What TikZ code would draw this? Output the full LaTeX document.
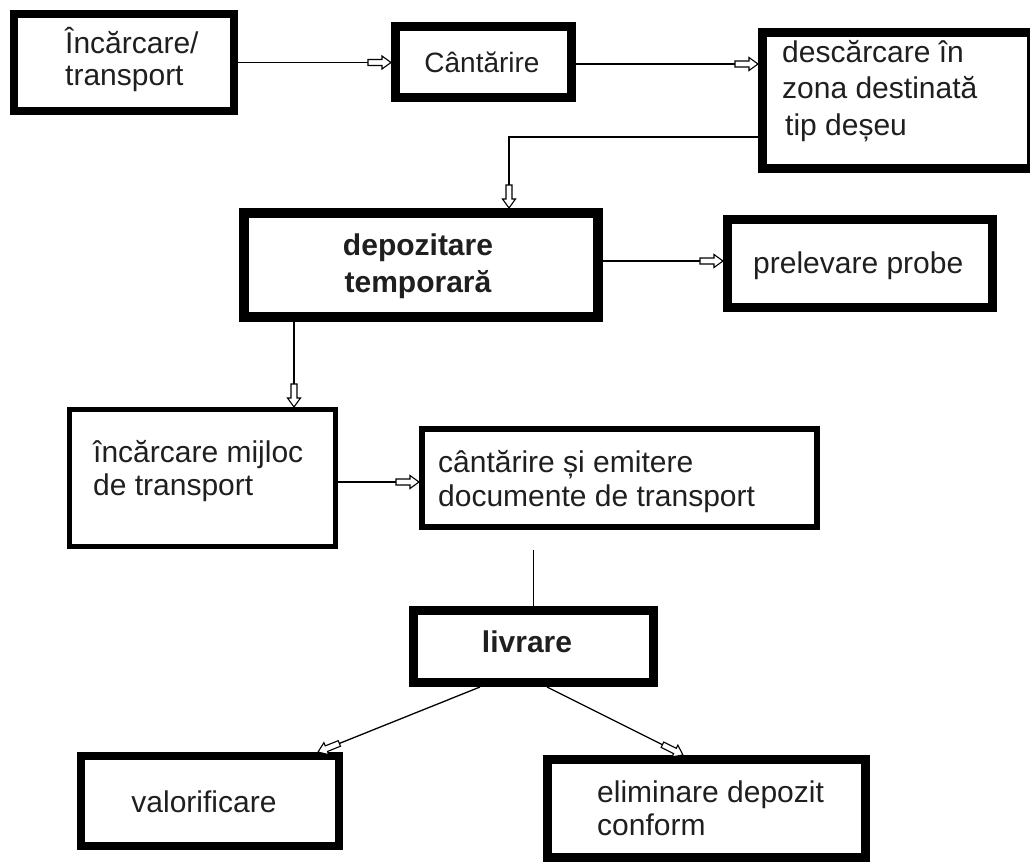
\documentclass[tikz,border=0pt]{standalone}
\usepackage{fontspec}
\setmainfont{Liberation Sans}
\usetikzlibrary{arrows.meta}
\pgfdeclarearrow{
  name = BlockOpen,
  setup code = {
    \pgfarrowssettipend{0pt}
    \pgfarrowssetlineend{-22pt}
    \pgfarrowssetbackend{-23pt}
    \pgfarrowssetvisualbackend{-23pt}
    \pgfarrowsupperhullpoint{0pt}{6.5pt}
    \pgfarrowsupperhullpoint{-23pt}{6.5pt}
  },
  drawing code = {
    \pgfsetlinewidth{1.1pt}
    \pgfsetmiterjoin
    \pgfpathmoveto{\pgfqpoint{0pt}{0pt}}
    \pgfpathlineto{\pgfqpoint{-9pt}{6.5pt}}
    \pgfpathlineto{\pgfqpoint{-9pt}{3pt}}
    \pgfpathlineto{\pgfqpoint{-23pt}{3pt}}
    \pgfpathlineto{\pgfqpoint{-23pt}{-3pt}}
    \pgfpathlineto{\pgfqpoint{-9pt}{-3pt}}
    \pgfpathlineto{\pgfqpoint{-9pt}{-6.5pt}}
    \pgfpathclose
    \pgfsetfillcolor{white}
    \pgfusepathqfillstroke
  }
}
\tikzset{
  box/.style={draw=black, fill=white, rectangle, inner sep=0pt},
  txt/.style={inner sep=0pt, align=left, text=black!88},
  arr/.style={line width=1.3pt, -{BlockOpen}},
  ln/.style={line width=1.3pt}
}
\begin{document}
\begin{tikzpicture}[x=1pt,y=-1pt]
\useasboundingbox (0,0) rectangle (1030,867);
\clip (0,0) rectangle (1030,867);
\fill[white] (0,0) rectangle (1030,867);
% boxes
\node[box, line width=8pt, minimum width=220pt, minimum height=97pt] (b1) at (124,62.5) {};
\node[box, line width=9pt, minimum width=176pt, minimum height=71pt] (b2) at (483.5,62) {};
\node[box, line width=9pt, minimum width=269pt, minimum height=136pt] (b3) at (897,100.5) {};
\node[box, line width=10pt, minimum width=354pt, minimum height=104pt] (b4) at (421,265) {};
\node[box, line width=9pt, minimum width=265pt, minimum height=88pt] (b5) at (860,263.5) {};
\node[box, line width=5pt, minimum width=266pt, minimum height=137pt] (b6) at (202.5,478) {};
\node[box, line width=6pt, minimum width=395pt, minimum height=98pt] (b7) at (619.5,478) {};
\node[box, line width=9pt, minimum width=240pt, minimum height=72pt] (bL) at (533.5,646.5) {};
\node[box, line width=8pt, minimum width=258pt, minimum height=90pt] (b8) at (210,801) {};
\node[box, line width=9pt, minimum width=318pt, minimum height=98pt] (b9) at (706.5,808.5) {};
% texts (anchor = baseline of the last line)
\node[txt, anchor=base west, font=\fontsize{30}{32}\selectfont] (t1) at (65,85) {Încărcare/\\transport};
\node[txt, anchor=base, font=\fontsize{28}{32}\selectfont] (t2) at (482,72) {Cântărire};
\node[txt, anchor=base west, font=\fontsize{30}{36.5}\selectfont] (t3) at (782,135) {descărcare în\\zona destinată\\\hspace*{3pt}tip deșeu};
\node[txt, anchor=base, align=center, font=\fontsize{30}{37}\selectfont\bfseries] (t4) at (418,292) {depozitare\\temporară};
\node[txt, anchor=base west, font=\fontsize{30}{34}\selectfont] (t5) at (753,273) {prelevare probe};
\node[txt, anchor=base west, font=\fontsize{30}{33}\selectfont] (t6) at (93,495) {încărcare mijloc\\de transport};
\node[txt, anchor=base west, font=\fontsize{30}{34}\selectfont] (t7) at (438,506) {cântărire și emitere\\documente de transport};
\node[txt, anchor=base, font=\fontsize{30}{34}\selectfont\bfseries] (tL) at (527,652) {livrare};
\node[txt, anchor=base, font=\fontsize{30}{34}\selectfont] (t8) at (204,812) {valorificare};
\node[txt, anchor=base west, font=\fontsize{30}{33}\selectfont] (t9) at (597,835) {eliminare depozit\\conform};
% connectors
\draw[arr] (b1.east) -- (b1.east -| b2.west);
\draw[arr] ([yshift=-2pt]b2.east) -- ([yshift=-2pt]b2.east -| b3.west);
\draw[arr] ([yshift=36pt]b3.south west) -| ([xshift=88pt]b4.north);
\draw[arr] ([yshift=4pt]b4.east) -- ([yshift=4pt]b4.east -| b5.west);
\draw[arr] ([xshift=55pt]b4.south west) -- ([xshift=55pt]b4.south west |- b6.north);
\draw[arr] ([yshift=-4pt]b6.east) -- ([yshift=-4pt]b6.east -| b7.west);
\draw[ln] (bL.north) -- ([yshift=-20pt]b7.south -| bL.north);
\draw[arr] ([xshift=71pt]bL.south west) -- ([xshift=241pt]b8.north west);
\draw[arr] ([xshift=138pt]bL.south west) -- ([xshift=140pt]b9.north west);
\end{tikzpicture}
\end{document}
